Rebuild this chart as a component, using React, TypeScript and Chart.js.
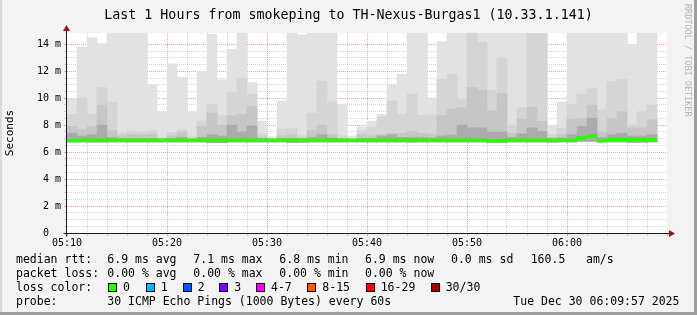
import React, { useEffect, useRef } from "react";
import { Chart, registerables } from "chart.js";

Chart.register(...registerables);

// ---- data ----
const barMinutes = [
  "05:10", "05:11", "05:12", "05:13", "05:14", "05:15", "05:16", "05:17", "05:18", "05:19",
  "05:20", "05:21", "05:22", "05:23", "05:24", "05:25", "05:26", "05:27", "05:28", "05:29",
  "05:30", "05:31", "05:32", "05:33", "05:34", "05:35", "05:36", "05:37", "05:38", "05:39",
  "05:40", "05:41", "05:42", "05:43", "05:44", "05:45", "05:46", "05:47", "05:48", "05:49",
  "05:50", "05:51", "05:52", "05:53", "05:54", "05:55", "05:56", "05:57", "05:58", "05:59",
  "06:00", "06:01", "06:02", "06:03", "06:04", "06:05", "06:06", "06:07", "06:08",
];

// milliseconds
const maxRtt = [
  10.0, 13.8, 14.5, 14.05, 14.84, 14.84, 14.84, 14.84, 10.95, 9.0,
  12.55, 11.56, 9.0, 12.0, 14.74, 11.36, 13.63, 14.84, 11.16, 8.3,
  7.15, 9.8, 14.84, 14.7, 14.84, 14.84, 14.84, 9.55, 7.2, 7.88,
  8.3, 8.81, 11.0, 11.78, 14.84, 14.84, 9.9, 14.2, 14.84, 14.84,
  14.84, 14.84, 14.84, 14.84, 14.84, 14.84, 14.84, 14.84, 8.0, 9.72,
  14.84, 14.84, 14.84, 14.84, 14.84, 14.84, 14.0, 14.84, 14.84,
];
const upperRtt = [
  8.8, 10.0, 8.8, 10.8, 9.7, 7.4, 7.55, 7.5, 7.6, 7.1,
  7.45, 7.7, 7.2, 8.3, 9.56, 8.7, 10.4, 11.5, 10.3, 7.35,
  7.0, 7.7, 7.75, 7.2, 8.9, 11.26, 9.72, 7.2, 7.0, 7.6,
  7.87, 8.62, 9.8, 8.79, 10.3, 8.74, 8.8, 11.4, 11.78, 9.95,
  14.84, 14.15, 10.6, 13.0, 8.0, 9.3, 14.84, 14.84, 7.3, 7.78,
  9.56, 10.3, 10.7, 9.13, 11.23, 11.4, 8.03, 9.0, 9.5,
];
const midRtt = [
  7.9, 7.7, 7.9, 9.5, 7.6, 7.2, 7.3, 7.3, 7.3, 7.0,
  7.2, 7.5, 7.0, 7.9, 8.9, 8.0, 8.7, 8.8, 9.4, 7.1,
  6.95, 7.2, 7.3, 7.05, 7.6, 8.0, 7.3, 7.0, 6.95, 7.3,
  7.2, 7.3, 7.4, 7.4, 7.55, 7.4, 7.3, 8.73, 9.2, 9.3,
  10.8, 10.6, 9.06, 10.35, 7.4, 8.45, 9.35, 8.3, 7.1, 7.3,
  8.45, 8.5, 9.5, 7.5, 8.5, 9.0, 7.8, 7.8, 8.4,
];
const coreRtt = [
  7.4, 7.2, 7.3, 8.0, 7.1, 7.0, 7.0, 7.0, 7.0, 6.95,
  7.0, 7.1, 6.95, 7.1, 7.3, 7.2, 8.0, 7.5, 7.95, 7.0,
  6.9, 7.0, 7.0, 7.0, 7.1, 7.3, 7.05, 6.95, 6.9, 7.0,
  7.0, 7.2, 7.3, 7.1, 7.1, 7.1, 7.05, 7.2, 7.26, 8.0,
  7.8, 7.8, 7.5, 7.5, 7.1, 7.35, 7.8, 7.55, 7.0, 7.05,
  7.3, 7.9, 8.5, 7.1, 7.3, 7.4, 7.2, 7.2, 7.3,
];
const minRtt = [
  6.76, 6.76, 6.75, 6.75, 6.76, 6.76, 6.76, 6.76, 6.76, 6.76,
  6.76, 6.76, 6.76, 6.76, 6.7, 6.7, 6.76, 6.76, 6.76, 6.76,
  6.76, 6.76, 6.72, 6.74, 6.76, 6.76, 6.76, 6.76, 6.76, 6.76,
  6.76, 6.76, 6.76, 6.76, 6.74, 6.76, 6.76, 6.76, 6.76, 6.76,
  6.76, 6.76, 6.72, 6.72, 6.76, 6.76, 6.76, 6.76, 6.74, 6.76,
  6.76, 6.8, 6.8, 6.76, 6.76, 6.76, 6.72, 6.74, 6.76,
];
const medianRtt = [
  6.86, 6.88, 6.88, 6.88, 6.88, 6.88, 6.88, 6.88, 6.88, 6.88,
  6.88, 6.88, 6.88, 6.88, 6.88, 6.88, 6.88, 6.88, 6.88, 6.88,
  6.88, 6.88, 6.88, 6.88, 6.88, 6.88, 6.88, 6.88, 6.88, 6.88,
  6.88, 6.88, 6.88, 6.88, 6.88, 6.88, 6.88, 6.88, 6.88, 6.88,
  6.88, 6.88, 6.86, 6.86, 6.88, 6.88, 6.88, 6.88, 6.88, 6.88,
  6.88, 7.06, 7.19, 6.86, 6.93, 6.95, 6.93, 6.9, 6.9,
];

const xTickLabels = ["05:10", "05:20", "05:30", "05:40", "05:50", "06:00"];
const yAxisMax = 14.84;

const titleText = "Last 1 Hours from smokeping to TH-Nexus-Burgas1 (10.33.1.141)";
const lossLegend = [
  { label: "0", color: "#26ff00" },
  { label: "1", color: "#00b8ff" },
  { label: "2", color: "#0059ff" },
  { label: "3", color: "#7e00ff" },
  { label: "4-7", color: "#ff00ea" },
  { label: "8-15", color: "#ff5500" },
  { label: "16-29", color: "#ff0000" },
  { label: "30/30", color: "#a10000" },
];

// ---- styling ----
const MONO = "'DejaVu Sans Mono', monospace";
const GRID_MINOR = "rgba(150,150,150,0.4)";
const GRID_MAJOR = "rgba(222,80,80,0.5)";

const isMult = (v: number, m: number) => Math.abs(v / m - Math.round(v / m)) < 1e-6;

const rrdPlugin = {
  id: "rrdFrame",
  beforeDraw(chart: any) {
    const { ctx, chartArea: a } = chart;
    ctx.save();
    ctx.fillStyle = "#ffffff";
    ctx.fillRect(a.left, a.top, a.right - a.left, a.bottom - a.top);
    ctx.restore();
  },
  afterDraw(chart: any) {
    const { ctx, chartArea: a } = chart;
    const xl = Math.round(a.left) - 0.5;
    const yb = Math.round(a.bottom) + 0.5;
    ctx.save();
    ctx.strokeStyle = "#1c1c1c";
    ctx.lineWidth = 1;
    ctx.beginPath();
    ctx.moveTo(xl, yb + 3);
    ctx.lineTo(xl, a.top - 3);
    ctx.moveTo(xl - 3, yb);
    ctx.lineTo(a.right + 3, yb);
    ctx.stroke();
    ctx.fillStyle = "#961616";
    ctx.beginPath();
    ctx.moveTo(xl, a.top - 8);
    ctx.lineTo(xl - 3.5, a.top - 2);
    ctx.lineTo(xl + 3.5, a.top - 2);
    ctx.closePath();
    ctx.fill();
    ctx.beginPath();
    ctx.moveTo(a.right + 8, yb);
    ctx.lineTo(a.right + 2, yb - 3.5);
    ctx.lineTo(a.right + 2, yb + 3.5);
    ctx.closePath();
    ctx.fill();
    ctx.restore();
  },
};

function Txt(props: { x: number; y: number; children: React.ReactNode }) {
  return (
    <div
      style={{
        position: "absolute",
        left: props.x,
        top: props.y,
        whiteSpace: "pre",
        fontFamily: MONO,
        fontSize: 11.5,
        lineHeight: "14px",
        color: "#000",
      }}
    >
      {props.children}
    </div>
  );
}

export default function App() {
  const canvasRef = useRef<HTMLCanvasElement | null>(null);

  useEffect(() => {
    const canvas = canvasRef.current;
    if (!canvas) return;
    const xs = barMinutes.map((_, i) => i + 0.5);
    const band = (lo: number[], hi: number[]) => xs.map((x, i) => ({ x, y: [lo[i], hi[i]] }));
    const medLo = medianRtt.map((v) => v - 0.11);
    const medHi = medianRtt.map((v) => v + 0.11);

    const chart = new Chart(canvas, {
      type: "bar",
      data: {
        datasets: [
          { label: "median rtt", data: band(medLo, medHi), backgroundColor: "#26ff00", order: 0 },
          { label: "core", data: band(minRtt, coreRtt), backgroundColor: "#ababab", order: 1 },
          { label: "mid", data: band(minRtt, midRtt), backgroundColor: "#c6c6c6", order: 2 },
          { label: "upper", data: band(minRtt, upperRtt), backgroundColor: "#d5d5d5", order: 3 },
          { label: "max", data: band(minRtt, maxRtt), backgroundColor: "#e2e2e2", order: 4 },
        ] as any,
      },
      options: {
        responsive: false,
        animation: false,
        events: [],
        layout: { padding: { top: 33, right: 30, bottom: 0, left: 0 } },
        plugins: {
          legend: { display: false },
          tooltip: { enabled: false },
          title: { display: false },
        },
        datasets: {
          bar: {
            grouped: false,
            categoryPercentage: 1,
            barPercentage: 1,
            borderWidth: 0,
          },
        },
        scales: {
          x: {
            type: "linear",
            min: 0,
            max: 60,
            offset: false,
            z: 1,
            grid: {
              offset: false,
              lineWidth: 1,
              tickLength: 3,
              color: (c: any) => {
                const v = c.tick.value;
                if (v === 0 || v === 60) return "rgba(0,0,0,0)";
                return isMult(v, 10) ? GRID_MAJOR : GRID_MINOR;
              },
              tickColor: (c: any) => (isMult(c.tick.value, 10) ? GRID_MAJOR : GRID_MINOR),
            },
            border: { display: false, dash: [1, 1] },
            ticks: {
              stepSize: 2,
              autoSkip: false,
              maxRotation: 0,
              padding: 1,
              color: "#000",
              font: { family: MONO, size: 10 },
              callback: (v: any) => {
                const n = Number(v);
                if (!isMult(n, 10)) return "";
                const idx = Math.round(n / 10);
                return xTickLabels[idx] ?? "";
              },
            },
            afterFit: (s: any) => {
              s.height = 82;
            },
          },
          y: {
            type: "linear",
            min: 0,
            max: yAxisMax,
            z: 1,
            grid: {
              lineWidth: 1,
              tickLength: 3,
              color: (c: any) => {
                const v = c.tick.value;
                if (v === 0) return "rgba(0,0,0,0)";
                if (isMult(v, 2)) return GRID_MAJOR;
                if (isMult(v, 0.5)) return GRID_MINOR;
                return "rgba(0,0,0,0)";
              },
              tickColor: (c: any) => {
                const v = c.tick.value;
                if (isMult(v, 2)) return GRID_MAJOR;
                if (isMult(v, 0.5)) return GRID_MINOR;
                return "rgba(0,0,0,0)";
              },
            },
            border: { display: false, dash: [1, 1] },
            ticks: {
              stepSize: 0.5,
              autoSkip: false,
              padding: 3,
              color: "#000",
              font: { family: MONO, size: 10 },
              callback: (v: any) => {
                const n = Number(v);
                if (!isMult(n, 2)) return "";
                return n === 0 ? "0  " : `${Math.round(n)} m`;
              },
            },
            title: {
              display: true,
              text: "Seconds",
              color: "#000",
              font: { family: MONO, size: 11 },
              padding: { top: 4, bottom: 0 },
            },
            afterFit: (s: any) => {
              s.width = 67;
            },
          },
        },
      } as any,
      plugins: [rrdPlugin],
    });
    return () => chart.destroy();
  }, []);

  const squareXs = [108, 145.7, 182.7, 219.3, 256, 307.3, 365.7, 430.7];

  return (
    <div
      style={{
        position: "fixed",
        left: 0,
        top: 0,
        width: 697,
        height: 315,
        background: "#f3f3f3",
        overflow: "hidden",
      }}
    >
      <canvas ref={canvasRef} width={697} height={315} style={{ position: "absolute", left: 0, top: 0 }} />
      <div
        style={{
          position: "absolute",
          left: 0,
          top: 7,
          width: 697,
          textAlign: "center",
          fontFamily: MONO,
          fontSize: 13.3,
          lineHeight: "16px",
          whiteSpace: "pre",
          color: "#000",
        }}
      >
        {titleText}
      </div>
      <div
        style={{
          position: "absolute",
          left: 683,
          top: 4,
          writingMode: "vertical-rl",
          fontFamily: MONO,
          fontSize: 8.5,
          lineHeight: "9px",
          color: "#b4b4b4",
          whiteSpace: "pre",
        }}
      >
        RRDTOOL / TOBI OETIKER
      </div>

      <Txt x={16} y={252.3}>median rtt:</Txt>
      <Txt x={107.3} y={252.3}>6.9 ms avg</Txt>
      <Txt x={193.3} y={252.3}>7.1 ms max</Txt>
      <Txt x={279.3} y={252.3}>6.8 ms min</Txt>
      <Txt x={365} y={252.3}>6.9 ms now</Txt>
      <Txt x={451} y={252.3}>0.0 ms sd</Txt>
      <Txt x={530.7} y={252.3}>160.5</Txt>
      <Txt x={586} y={252.3}>am/s</Txt>

      <Txt x={16} y={266.3}>packet loss:</Txt>
      <Txt x={107.3} y={266.3}>0.00 % avg</Txt>
      <Txt x={193.3} y={266.3}>0.00 % max</Txt>
      <Txt x={279.3} y={266.3}>0.00 % min</Txt>
      <Txt x={365} y={266.3}>0.00 % now</Txt>

      <Txt x={16} y={280.3}>loss color:</Txt>
      {lossLegend.map((l, i) => (
        <React.Fragment key={l.label}>
          <div
            style={{
              position: "absolute",
              left: squareXs[i],
              top: 283,
              width: 9,
              height: 9,
              boxSizing: "border-box",
              border: "1px solid #000",
              background: l.color,
            }}
          />
          <Txt x={squareXs[i] + 15} y={280.3}>
            {l.label}
          </Txt>
        </React.Fragment>
      ))}

      <Txt x={16} y={294.3}>probe:</Txt>
      <Txt x={107.3} y={294.3}>30 ICMP Echo Pings (1000 Bytes) every 60s</Txt>
      <Txt x={513.3} y={294.3}>Tue Dec 30 06:09:57 2025</Txt>

      <div style={{ position: "absolute", right: 0, top: 0, width: 3, height: 315, background: "#9e9e9e" }} />
      <div style={{ position: "absolute", left: 0, bottom: 0, width: 697, height: 3, background: "#9e9e9e" }} />
      <div style={{ position: "absolute", left: 0, top: 0, width: 2, height: 312, background: "#dadada" }} />
    </div>
  );
}
